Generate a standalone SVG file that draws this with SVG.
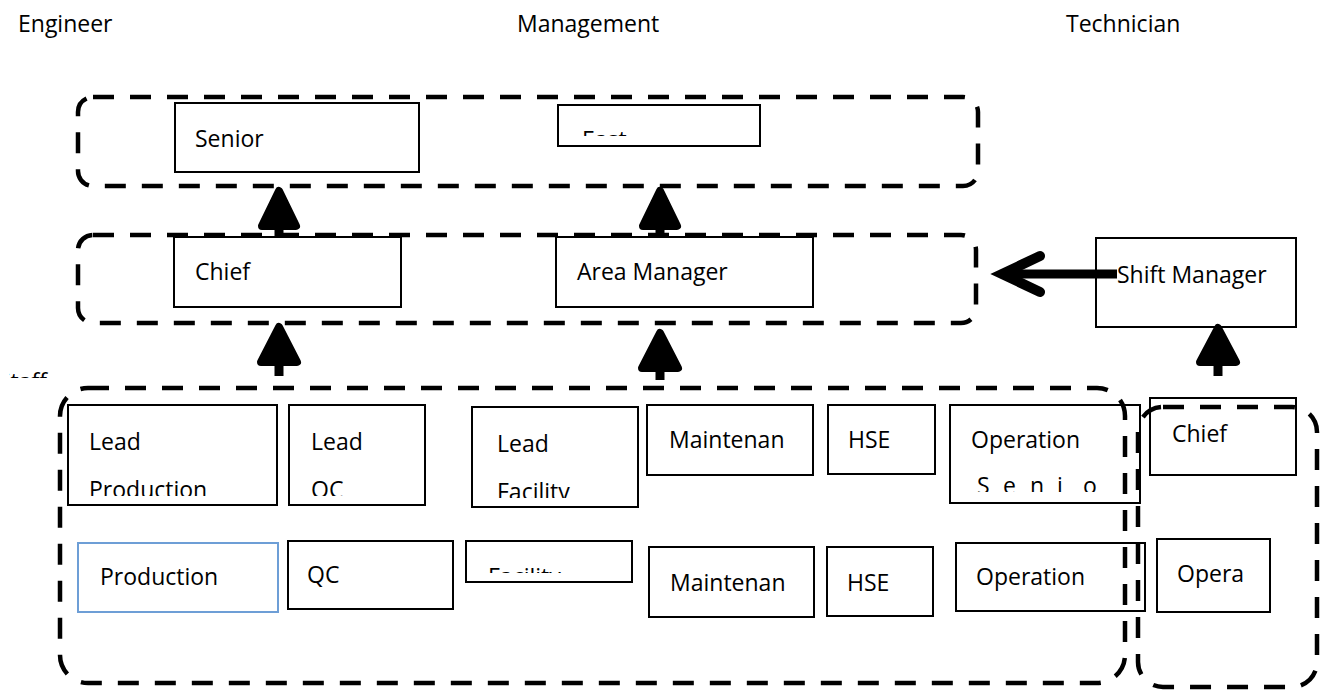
<svg xmlns="http://www.w3.org/2000/svg" width="1330" height="693" viewBox="0 0 1330 693">
<style>
text{font-family:"Open Sans","Liberation Sans",sans-serif;font-size:23px;fill:#000}
.box{fill:#fff;stroke:#000;stroke-width:2}
.blue{fill:#fff;stroke:#6d9ed6;stroke-width:2}
.cont{fill:none;stroke:#000;stroke-width:4.5;stroke-dasharray:21 16}
.shaft{stroke:#000;stroke-width:9;fill:none}
.head{fill:#000;stroke:#000;stroke-width:8;stroke-linejoin:round}
.chev{fill:none;stroke:#000;stroke-width:10;stroke-linecap:round;stroke-linejoin:miter}
</style>
<defs>
<clipPath id="cE"><rect x="560" y="131" width="198" height="5"/></clipPath>
<clipPath id="cFac"><rect x="468" y="568" width="162" height="5"/></clipPath>
<clipPath id="cStaff"><rect x="9" y="371" width="50" height="7"/></clipPath>
<clipPath id="cLP"><rect x="69" y="406" width="207" height="90"/></clipPath>
<clipPath id="cLQ"><rect x="290" y="406" width="134" height="90"/></clipPath>
<clipPath id="cLF"><rect x="473" y="408" width="164" height="90"/></clipPath>
<clipPath id="cOp"><rect x="951" y="405" width="186" height="87"/></clipPath>
</defs>

<g id="headers">
<text x="18" y="32">Engineer</text>
<text x="517" y="32">Management</text>
<text x="1066" y="32">Technician</text>
<text x="-2" y="390" clip-path="url(#cStaff)">Staff</text>
</g>

<g id="n-senior"><rect class="box" x="175" y="103" width="244" height="69"/><text x="195" y="147">Senior</text></g>
<g id="n-exec"><rect class="box" x="558" y="105" width="202" height="41"/><text x="582" y="148" clip-path="url(#cE)">East</text></g>
<g id="n-chief"><rect class="box" x="174" y="237" width="227" height="70"/><text x="195" y="280">Chief</text></g>
<g id="n-area"><rect class="box" x="556" y="237" width="257" height="70"/><text x="577" y="280">Area Manager</text></g>
<g id="n-shift"><rect class="box" x="1096" y="238" width="200" height="89"/><text x="1117" y="283">Shift Manager</text></g>

<g id="n-lead-prod"><rect class="box" x="68" y="405" width="209" height="100"/><g clip-path="url(#cLP)"><text x="89" y="450">Lead</text><text x="89" y="498">Production</text></g></g>
<g id="n-lead-qc"><rect class="box" x="289" y="405" width="136" height="100"/><g clip-path="url(#cLQ)"><text x="311" y="450">Lead</text><text x="311" y="498">QC</text></g></g>
<g id="n-lead-fac"><rect class="box" x="472" y="407" width="166" height="100"/><g clip-path="url(#cLF)"><text x="497" y="452">Lead</text><text x="497" y="500">Facility</text></g></g>
<g id="n-maint1"><rect class="box" x="647" y="405" width="166" height="70"/><text x="669" y="448">Maintenan</text></g>
<g id="n-hse1"><rect class="box" x="828" y="405" width="107" height="69"/><text x="848" y="448">HSE</text></g>
<g id="n-op1"><rect class="box" x="950" y="405" width="190" height="98"/><g clip-path="url(#cOp)"><text x="971" y="448">Operation</text><text x="977 1003 1030 1057 1083" y="494">Senio</text></g></g>
<g id="n-chief2"><rect class="box" x="1150" y="398" width="146" height="77"/><text x="1172" y="442">Chief</text></g>

<g id="n-prod"><rect class="blue" x="78" y="543" width="200" height="69"/><text x="100" y="585">Production</text></g>
<g id="n-qc"><rect class="box" x="288" y="541" width="165" height="68"/><text x="307" y="583">QC</text></g>
<g id="n-fac"><rect class="box" x="466" y="541" width="166" height="41"/><text x="488" y="585" clip-path="url(#cFac)">Facility</text></g>
<g id="n-maint2"><rect class="box" x="649" y="547" width="165" height="70"/><text x="670" y="591">Maintenan</text></g>
<g id="n-hse2"><rect class="box" x="827" y="547" width="106" height="69"/><text x="847" y="591">HSE</text></g>
<g id="n-op2"><rect class="box" x="956" y="543" width="189" height="68"/><text x="976" y="585">Operation</text></g>
<g id="n-opera"><rect class="box" x="1157" y="539" width="113" height="73"/><text x="1177" y="582">Opera</text></g>

<g id="containers">
<rect class="cont" x="78" y="97" width="900" height="89" rx="15"/>
<rect class="cont" x="78" y="235" width="898" height="88" rx="15"/>
<rect class="cont" x="60" y="388" width="1065" height="295" rx="28"/>
<rect class="cont" x="1138" y="407" width="179" height="280" rx="25"/>
</g>

<g id="connectors">
<line class="shaft" x1="279" y1="238" x2="279" y2="215"/>
<path class="head" d="M262,226 L279,191 L296,226 Z"/>
<line class="shaft" x1="660" y1="238" x2="660" y2="215"/>
<path class="head" d="M643,226 L660,191 L677,226 Z"/>
<line class="shaft" x1="279" y1="376" x2="279" y2="350"/>
<path class="head" d="M261,362 L279,327 L297,362 Z"/>
<line class="shaft" x1="660" y1="380" x2="660" y2="355"/>
<path class="head" d="M642,368 L660,333 L678,368 Z"/>
<line class="shaft" x1="1218" y1="376" x2="1218" y2="350"/>
<path class="head" d="M1200,362 L1218,328 L1236,362 Z"/>
<line class="shaft" x1="1004" y1="274" x2="1117" y2="274"/>
<polyline class="chev" points="1040,256 1002,274 1040,292"/>
</g>
</svg>
